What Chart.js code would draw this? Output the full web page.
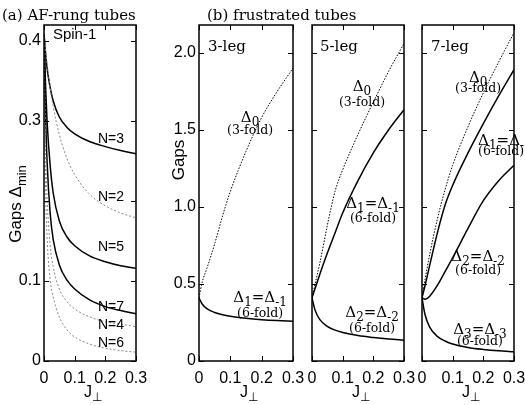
<!DOCTYPE html>
<html>
<head>
<meta charset="utf-8">
<script src="https://cdn.jsdelivr.net/npm/chart.js@4"></script>
<style>
  body { margin: 0; background: #fff; }
  #wrap { position: relative; width: 525px; height: 405px; }
  canvas { position: absolute; left: 0; top: 0; }
</style>
</head>
<body>
<div id="wrap">
  <canvas id="pa" width="525" height="405"></canvas>
  <canvas id="pb1" width="525" height="405"></canvas>
  <canvas id="pb2" width="525" height="405"></canvas>
  <canvas id="pb3" width="525" height="405"></canvas>
</div>
<script>
// (a) AF-rung tubes, gap vs J_perp
const jA = [0, 0.005, 0.01, 0.02, 0.03, 0.05, 0.075, 0.1, 0.15, 0.2, 0.25, 0.3];
const gapN3 = [0.41, 0.385, 0.366, 0.342, 0.325, 0.305, 0.292, 0.284, 0.274, 0.268, 0.263, 0.259];
const gapN2 = [0.41, 0.39, 0.372, 0.342, 0.318, 0.283, 0.253, 0.233, 0.208, 0.194, 0.185, 0.179];
const gapN5 = [0.41, 0.345, 0.3, 0.245, 0.21, 0.175, 0.155, 0.144, 0.131, 0.124, 0.119, 0.116];
const gapN7 = [0.41, 0.31, 0.25, 0.185, 0.152, 0.12, 0.101, 0.09, 0.076, 0.068, 0.063, 0.059];
const gapN4 = [0.41, 0.27, 0.205, 0.145, 0.118, 0.09, 0.074, 0.065, 0.055, 0.049, 0.046, 0.043];
const gapN6 = [0.41, 0.22, 0.155, 0.102, 0.08, 0.055, 0.039, 0.03, 0.021, 0.016, 0.013, 0.011];

// (b) frustrated tubes
const jB = [0, 0.01, 0.025, 0.05, 0.075, 0.1, 0.15, 0.2, 0.25, 0.3];
const leg3D0 = [0.41, 0.51, 0.6, 0.76, 0.94, 1.1, 1.36, 1.58, 1.75, 1.9];
const leg3D1 = [0.41, 0.37, 0.34, 0.315, 0.3, 0.29, 0.277, 0.268, 0.262, 0.258];
const leg5D0 = [0.41, 0.5, 0.63, 0.88, 1.1, 1.24, 1.47, 1.68, 1.88, 2.06];
const leg5D1 = [0.41, 0.47, 0.56, 0.7, 0.83, 0.96, 1.17, 1.35, 1.5, 1.63];
const leg5D2 = [0.41, 0.33, 0.27, 0.225, 0.2, 0.185, 0.165, 0.152, 0.142, 0.135];
const leg7D0 = [0.41, 0.53, 0.69, 0.92, 1.11, 1.27, 1.52, 1.74, 1.94, 2.13];
const leg7D1 = [0.41, 0.49, 0.62, 0.83, 1.01, 1.14, 1.35, 1.54, 1.72, 1.89];
const leg7D2 = [0.41, 0.4, 0.42, 0.49, 0.58, 0.67, 0.86, 1.04, 1.17, 1.27];
const leg7D3 = [0.41, 0.3, 0.22, 0.16, 0.13, 0.11, 0.088, 0.075, 0.066, 0.06];

// tick labels
const ticksJ = [0, 0.1, 0.2, 0.3];
const labelsJ = ['0', '0.1', '0.2', '0.3'];
const ticksA = [0, 0.1, 0.2, 0.3, 0.4];
const labelsA = ['0', '0.1', '', '0.3', '0.4'];
const ticksB = [0, 0.5, 1, 1.5, 2];
const labelsB = ['0', '0.5', '1.0', '1.5', '2.0'];

const SANS = '"Liberation Sans", "DejaVu Sans", sans-serif';
const SERIF = '"DejaVu Serif", serif';

function pts(xs, ys) {
  return xs.map((x, i) => ({ x: x, y: ys[i] }));
}
function solid(xs, ys) {
  return { data: pts(xs, ys), borderColor: '#000', borderWidth: 1.5 };
}
function grayDots(xs, ys) {
  return { data: pts(xs, ys), borderColor: '#888', borderWidth: 1, borderDash: [2, 2] };
}
function blackDots(xs, ys) {
  return { data: pts(xs, ys), borderColor: '#000', borderWidth: 1, borderDash: [1.5, 1.5] };
}

// text made of pieces, second item true => subscript
function rich(ctx, segs, x, y, align, family, size, ratio) {
  const sub = Math.round(size * (ratio || 0.75));
  let w = 0;
  segs.forEach(g => {
    ctx.font = (g[1] ? sub : size) + 'px ' + family;
    w += ctx.measureText(g[0]).width;
  });
  let cx = align === 'center' ? x - w / 2 : x;
  ctx.textAlign = 'left';
  ctx.textBaseline = 'alphabetic';
  segs.forEach(g => {
    ctx.font = (g[1] ? sub : size) + 'px ' + family;
    ctx.fillText(g[0], cx, y + (g[1] ? size * 0.28 : 0));
    cx += ctx.measureText(g[0]).width;
  });
}

const frame = {
  id: 'frame',
  afterDatasetsDraw(chart) {
    const { ctx, chartArea: a } = chart;
    const x = chart.scales.x, y = chart.scales.y;
    ctx.save();
    ctx.strokeStyle = '#000';
    ctx.lineWidth = 1;
    ctx.beginPath();
    x.ticks.forEach(t => {
      const p = Math.round(x.getPixelForValue(t.value)) + 0.5;
      ctx.moveTo(p, a.bottom); ctx.lineTo(p, a.bottom - 5);
      ctx.moveTo(p, a.top); ctx.lineTo(p, a.top + 5);
    });
    y.ticks.forEach(t => {
      const p = Math.round(y.getPixelForValue(t.value)) + 0.5;
      ctx.moveTo(a.left, p); ctx.lineTo(a.left + 5, p);
      ctx.moveTo(a.right, p); ctx.lineTo(a.right - 5, p);
    });
    ctx.stroke();
    ctx.lineWidth = 1.5;
    ctx.strokeRect(a.left, a.top, a.right - a.left, a.bottom - a.top);
    ctx.restore();
  }
};

function notes(fn) {
  return {
    id: 'notes',
    afterDraw(chart) {
      const ctx = chart.ctx;
      ctx.save();
      ctx.fillStyle = '#000';
      fn(ctx, chart, chart.scales.x, chart.scales.y, chart.chartArea);
      ctx.restore();
    }
  };
}

function jTitle(ctx, a) {
  const c = (a.left + a.right) / 2 - 6;
  rich(ctx, [['J', false], ['\u22A5', true]], c, 397, 'left', SANS, 16);
}

function panel(id, box, yMax, yTicks, yLabels, showY, datasets, draw) {
  return new Chart(document.getElementById(id), {
    type: 'line',
    data: { datasets: datasets },
    options: {
      responsive: false,
      animation: false,
      devicePixelRatio: 1,
      layout: { padding: { left: box.left - 44, right: 525 - box.right, top: box.top, bottom: 0 } },
      plugins: { legend: { display: false }, tooltip: { enabled: false } },
      elements: {
        point: { radius: 0 },
        line: { cubicInterpolationMode: 'monotone', fill: false }
      },
      scales: {
        x: {
          type: 'linear', min: 0, max: 0.3,
          grid: { display: false, drawTicks: false },
          border: { display: false },
          afterBuildTicks: s => { s.ticks = ticksJ.map(v => ({ value: v })); },
          ticks: {
            color: '#000', padding: 8, maxRotation: 0, autoSkip: false,
            font: { family: SANS, size: 16 },
            callback: (v, i) => labelsJ[i]
          },
          afterFit: s => { s.height = 405 - box.bottom; s.paddingLeft = 0; s.paddingRight = 0; }
        },
        y: {
          type: 'linear', min: 0, max: yMax,
          grid: { display: false, drawTicks: false },
          border: { display: false },
          afterBuildTicks: s => { s.ticks = yTicks.map(v => ({ value: v })); },
          ticks: {
            display: showY, color: '#000', padding: 3, autoSkip: false,
            font: { family: SANS, size: 16 },
            callback: (v, i) => yLabels[i]
          },
          afterFit: s => { s.width = 44; s.paddingTop = 0; s.paddingBottom = 0; }
        }
      }
    },
    plugins: [frame, notes(draw)]
  });
}

// panel (a)
panel('pa', { left: 44, right: 136, top: 25, bottom: 361 }, 0.42, ticksA, labelsA, true, [
  grayDots(jA, gapN2), grayDots(jA, gapN4), grayDots(jA, gapN6),
  solid(jA, gapN3), solid(jA, gapN5), solid(jA, gapN7)
], (ctx, ch, x, y, a) => {
  ctx.font = '15px ' + SERIF;
  ctx.textAlign = 'left';
  ctx.textBaseline = 'alphabetic';
  ctx.fillText('(a) AF-rung tubes', 2, 20);
  ctx.fillText('(b) frustrated tubes', 207, 20);

  ctx.font = '15px ' + SANS;
  ctx.textBaseline = 'middle';
  ctx.fillText('Spin-1', x.getPixelForValue(0.029), y.getPixelForValue(0.408));
  ctx.font = '14px ' + SANS;
  [['N=3', 0.277], ['N=2', 0.205], ['N=5', 0.142], ['N=7', 0.067], ['N=4', 0.045], ['N=6', 0.022]]
    .forEach(n => ctx.fillText(n[0], x.getPixelForValue(0.176), y.getPixelForValue(n[1])));

  ctx.save();
  ctx.translate(21, 204);
  ctx.rotate(-Math.PI / 2);
  rich(ctx, [['Gaps \u0394', false], ['min', true]], 0, 0, 'center', SANS, 17);
  ctx.restore();
  jTitle(ctx, a);
});

function lab(ctx, x, y, j, g, segs, fold, foldG, align) {
  const px = x.getPixelForValue(j);
  rich(ctx, segs, px, y.getPixelForValue(g) + 5, align, SERIF, 15, 0.8);
  ctx.font = '12.5px ' + SERIF;
  ctx.textAlign = align === 'center' ? 'center' : 'left';
  ctx.textBaseline = 'middle';
  ctx.fillText(fold, px, y.getPixelForValue(foldG));
}
const D0 = [['\u0394', false], ['0', true]];
function Dn(n) {
  return [['\u0394', false], [String(n), true], ['=', false], ['\u0394', false], ['-' + n, true]];
}

panel('pb1', { left: 199, right: 293, top: 25, bottom: 361 }, 2.18, ticksB, labelsB, true, [
  blackDots(jB, leg3D0), solid(jB, leg3D1)
], (ctx, ch, x, y, a) => {
  ctx.font = '15px ' + SERIF;
  ctx.textAlign = 'left';
  ctx.textBaseline = 'middle';
  ctx.fillText('3-leg', a.left + 9, 47);
  lab(ctx, x, y, 0.163, 1.584, D0, '(3-fold)', 1.494, 'center');
  lab(ctx, x, y, 0.195, 0.416, Dn(1), '(6-fold)', 0.305, 'center');
  ctx.save();
  ctx.translate(184, 160);
  ctx.rotate(-Math.PI / 2);
  rich(ctx, [['Gaps', false]], 0, 0, 'center', SANS, 17);
  ctx.restore();
  jTitle(ctx, a);
});

panel('pb2', { left: 312, right: 404, top: 25, bottom: 361 }, 2.18, ticksB, labelsB, false, [
  blackDots(jB, leg5D0), solid(jB, leg5D1), solid(jB, leg5D2)
], (ctx, ch, x, y, a) => {
  ctx.font = '15px ' + SERIF;
  ctx.textAlign = 'left';
  ctx.textBaseline = 'middle';
  ctx.fillText('5-leg', a.left + 8, 47);
  lab(ctx, x, y, 0.163, 1.786, D0, '(3-fold)', 1.675, 'center');
  lab(ctx, x, y, 0.199, 1.026, Dn(1), '(6-fold)', 0.922, 'center');
  lab(ctx, x, y, 0.196, 0.318, Dn(2), '(6-fold)', 0.208, 'center');
  jTitle(ctx, a);
});

panel('pb3', { left: 422, right: 514, top: 25, bottom: 361 }, 2.18, ticksB, labelsB, false, [
  blackDots(jB, leg7D0), solid(jB, leg7D1), solid(jB, leg7D2), solid(jB, leg7D3)
], (ctx, ch, x, y, a) => {
  ctx.font = '15px ' + SERIF;
  ctx.textAlign = 'left';
  ctx.textBaseline = 'middle';
  ctx.fillText('7-leg', a.left + 9, 47);
  lab(ctx, x, y, 0.183, 1.844, D0, '(3-fold)', 1.766, 'center');
  lab(ctx, x, y, 0.183, 1.435, Dn(1), '(6-fold)', 1.357, 'left');
  lab(ctx, x, y, 0.183, 0.682, Dn(2), '(6-fold)', 0.584, 'center');
  lab(ctx, x, y, 0.189, 0.208, Dn(3), '(6-fold)', 0.123, 'center');
  jTitle(ctx, a);
});
</script>
</body>
</html>
